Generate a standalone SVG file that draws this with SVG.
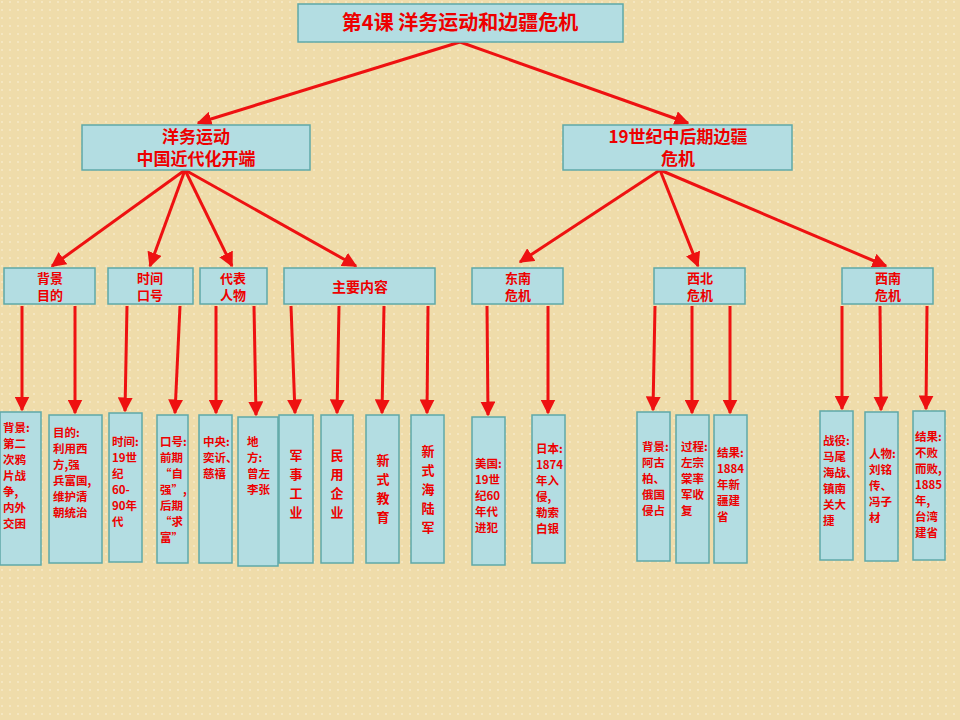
<svg xmlns="http://www.w3.org/2000/svg" width="960" height="720" viewBox="0 0 960 720">
<defs>
<pattern id="dots" width="8" height="8" patternUnits="userSpaceOnUse"><rect width="8" height="8" fill="#efdcaa"/><circle cx="2" cy="2" r="0.8" fill="#fbf3dc"/></pattern>
<marker id="ah" viewBox="0 0 10 10" refX="9" refY="5" markerWidth="5" markerHeight="5" orient="auto"><path d="M0,0L10,5L0,10z" fill="#ee1111"/></marker>
<style>
.b{fill:#b3dde2;stroke:#5fa8a8;stroke-width:1.5}
.t{fill:#ee0000;font-family:"Noto Sans CJK SC",sans-serif;font-weight:bold;text-anchor:middle}
.s{fill:#ee0000;font-family:"Noto Sans CJK SC",sans-serif;font-weight:bold;font-size:11.5px}
.c line{stroke:#ee1111;stroke-width:3;marker-end:url(#ah)}
</style>
</defs>
<rect width="960" height="720" fill="url(#dots)"/>
<g class="c">
<line x1="460" y1="42" x2="198" y2="123"/><line x1="460" y1="42" x2="688" y2="123"/>
<line x1="185" y1="170" x2="52" y2="266"/><line x1="185" y1="170" x2="150" y2="266"/><line x1="185" y1="170" x2="232" y2="266"/><line x1="185" y1="170" x2="356" y2="266"/>
<line x1="660" y1="170" x2="520" y2="262"/><line x1="660" y1="170" x2="698" y2="266"/><line x1="660" y1="170" x2="886" y2="266"/>
<line x1="22" y1="306" x2="22" y2="410"/><line x1="75" y1="306" x2="75" y2="413"/><line x1="127" y1="306" x2="125" y2="411"/><line x1="180" y1="306" x2="175" y2="413"/><line x1="216" y1="306" x2="216" y2="413"/><line x1="254" y1="306" x2="256" y2="415"/><line x1="291" y1="306" x2="295" y2="413"/><line x1="339" y1="306" x2="337" y2="413"/><line x1="384" y1="306" x2="382" y2="413"/><line x1="428" y1="306" x2="427" y2="413"/><line x1="487" y1="306" x2="488" y2="415"/><line x1="548" y1="306" x2="548" y2="413"/><line x1="655" y1="306" x2="653" y2="410"/><line x1="692" y1="306" x2="692" y2="413"/><line x1="730" y1="306" x2="730" y2="413"/><line x1="842" y1="306" x2="842" y2="409"/><line x1="880" y1="306" x2="881" y2="410"/><line x1="927" y1="306" x2="926" y2="409"/>
</g>
<g id="title"><rect class="b" x="298" y="4" width="325" height="38"/><text class="t" x="460" y="30" font-size="20">第4课 洋务运动和边疆危机</text></g>
<g id="n1"><rect class="b" x="82" y="125" width="228" height="45"/><text class="t" x="196" y="143" font-size="17"><tspan x="196">洋务运动</tspan><tspan x="196" dy="22">中国近代化开端</tspan></text></g>
<g id="n2"><rect class="b" x="563" y="125" width="229" height="45"/><text class="t" x="678" y="143" font-size="17"><tspan x="678">19世纪中后期边疆</tspan><tspan x="678" dy="22">危机</tspan></text></g>
<g id="a1"><rect class="b" x="4" y="268" width="91" height="36"/><text class="t" x="50" y="283" font-size="13"><tspan x="50">背景</tspan><tspan x="50" dy="17">目的</tspan></text></g>
<g id="a2"><rect class="b" x="108" y="268" width="85" height="36"/><text class="t" x="150" y="283" font-size="13"><tspan x="150">时间</tspan><tspan x="150" dy="17">口号</tspan></text></g>
<g id="a3"><rect class="b" x="200" y="268" width="67" height="36"/><text class="t" x="233" y="283" font-size="13"><tspan x="233">代表</tspan><tspan x="233" dy="17">人物</tspan></text></g>
<g id="a4"><rect class="b" x="284" y="268" width="151" height="36"/><text class="t" x="360" y="292" font-size="14">主要内容</text></g>
<g id="a5"><rect class="b" x="472" y="268" width="91" height="36"/><text class="t" x="518" y="283" font-size="13"><tspan x="518">东南</tspan><tspan x="518" dy="17">危机</tspan></text></g>
<g id="a6"><rect class="b" x="654" y="268" width="91" height="36"/><text class="t" x="700" y="283" font-size="13"><tspan x="700">西北</tspan><tspan x="700" dy="17">危机</tspan></text></g>
<g id="a7"><rect class="b" x="842" y="268" width="91" height="36"/><text class="t" x="888" y="283" font-size="13"><tspan x="888">西南</tspan><tspan x="888" dy="17">危机</tspan></text></g>
<g id="l1"><rect class="b" x="0" y="412" width="41" height="153"/><text class="s" x="3" y="432"><tspan x="3">背景:</tspan><tspan x="3" dy="16">第二</tspan><tspan x="3" dy="16">次鸦</tspan><tspan x="3" dy="16">片战</tspan><tspan x="3" dy="16">争,</tspan><tspan x="3" dy="16">内外</tspan><tspan x="3" dy="16">交困</tspan></text></g>
<g id="l2"><rect class="b" x="49" y="415" width="53" height="148"/><text class="s" x="53" y="437"><tspan x="53">目的:</tspan><tspan x="53" dy="16">利用西</tspan><tspan x="53" dy="16">方,强</tspan><tspan x="53" dy="16">兵富国,</tspan><tspan x="53" dy="16">维护清</tspan><tspan x="53" dy="16">朝统治</tspan></text></g>
<g id="l3"><rect class="b" x="109" y="413" width="33" height="149"/><text class="s" x="112" y="446"><tspan x="112">时间:</tspan><tspan x="112" dy="16">19世</tspan><tspan x="112" dy="16">纪</tspan><tspan x="112" dy="16">60-</tspan><tspan x="112" dy="16">90年</tspan><tspan x="112" dy="16">代</tspan></text></g>
<g id="l4"><rect class="b" x="157" y="415" width="31" height="148"/><text class="s" x="160" y="446"><tspan x="160">口号:</tspan><tspan x="160" dy="16">前期</tspan><tspan x="160" dy="16">“自</tspan><tspan x="160" dy="16">强”,</tspan><tspan x="160" dy="16">后期</tspan><tspan x="160" dy="16">“求</tspan><tspan x="160" dy="16">富”</tspan></text></g>
<g id="l5"><rect class="b" x="199" y="415" width="33" height="148"/><text class="s" x="203" y="446"><tspan x="203">中央:</tspan><tspan x="203" dy="16">奕䜣、</tspan><tspan x="203" dy="16">慈禧</tspan></text></g>
<g id="l6"><rect class="b" x="238" y="417" width="40" height="149"/><text class="s" x="247" y="446"><tspan x="247">地</tspan><tspan x="247" dy="16">方:</tspan><tspan x="247" dy="16">曾左</tspan><tspan x="247" dy="16">李张</tspan></text></g>
<g id="l7"><rect class="b" x="279" y="415" width="34" height="148"/><text class="t" x="296" y="460" font-size="13"><tspan x="296">军</tspan><tspan x="296" dy="19">事</tspan><tspan x="296" dy="19">工</tspan><tspan x="296" dy="19">业</tspan></text></g>
<g id="l8"><rect class="b" x="321" y="415" width="32" height="148"/><text class="t" x="337" y="460" font-size="13"><tspan x="337">民</tspan><tspan x="337" dy="19">用</tspan><tspan x="337" dy="19">企</tspan><tspan x="337" dy="19">业</tspan></text></g>
<g id="l9"><rect class="b" x="366" y="415" width="33" height="148"/><text class="t" x="383" y="465" font-size="13"><tspan x="383">新</tspan><tspan x="383" dy="19">式</tspan><tspan x="383" dy="19">教</tspan><tspan x="383" dy="19">育</tspan></text></g>
<g id="l10"><rect class="b" x="411" y="415" width="33" height="148"/><text class="t" x="428" y="456" font-size="13"><tspan x="428">新</tspan><tspan x="428" dy="19">式</tspan><tspan x="428" dy="19">海</tspan><tspan x="428" dy="19">陆</tspan><tspan x="428" dy="19">军</tspan></text></g>
<g id="l11"><rect class="b" x="472" y="417" width="33" height="148"/><text class="s" x="475" y="468"><tspan x="475">美国:</tspan><tspan x="475" dy="16">19世</tspan><tspan x="475" dy="16">纪60</tspan><tspan x="475" dy="16">年代</tspan><tspan x="475" dy="16">进犯</tspan></text></g>
<g id="l12"><rect class="b" x="532" y="415" width="33" height="148"/><text class="s" x="536" y="453"><tspan x="536">日本:</tspan><tspan x="536" dy="16">1874</tspan><tspan x="536" dy="16">年入</tspan><tspan x="536" dy="16">侵,</tspan><tspan x="536" dy="16">勒索</tspan><tspan x="536" dy="16">白银</tspan></text></g>
<g id="l13"><rect class="b" x="637" y="412" width="33" height="149"/><text class="s" x="642" y="451"><tspan x="642">背景:</tspan><tspan x="642" dy="16">阿古</tspan><tspan x="642" dy="16">柏、</tspan><tspan x="642" dy="16">俄国</tspan><tspan x="642" dy="16">侵占</tspan></text></g>
<g id="l14"><rect class="b" x="676" y="415" width="33" height="148"/><text class="s" x="681" y="451"><tspan x="681">过程:</tspan><tspan x="681" dy="16">左宗</tspan><tspan x="681" dy="16">棠率</tspan><tspan x="681" dy="16">军收</tspan><tspan x="681" dy="16">复</tspan></text></g>
<g id="l15"><rect class="b" x="714" y="415" width="33" height="148"/><text class="s" x="717" y="457"><tspan x="717">结果:</tspan><tspan x="717" dy="16">1884</tspan><tspan x="717" dy="16">年新</tspan><tspan x="717" dy="16">疆建</tspan><tspan x="717" dy="16">省</tspan></text></g>
<g id="l16"><rect class="b" x="820" y="411" width="33" height="149"/><text class="s" x="823" y="445"><tspan x="823">战役:</tspan><tspan x="823" dy="16">马尾</tspan><tspan x="823" dy="16">海战、</tspan><tspan x="823" dy="16">镇南</tspan><tspan x="823" dy="16">关大</tspan><tspan x="823" dy="16">捷</tspan></text></g>
<g id="l17"><rect class="b" x="865" y="412" width="33" height="149"/><text class="s" x="869" y="458"><tspan x="869">人物:</tspan><tspan x="869" dy="16">刘铭</tspan><tspan x="869" dy="16">传、</tspan><tspan x="869" dy="16">冯子</tspan><tspan x="869" dy="16">材</tspan></text></g>
<g id="l18"><rect class="b" x="913" y="411" width="32" height="149"/><text class="s" x="915" y="441"><tspan x="915">结果:</tspan><tspan x="915" dy="16">不败</tspan><tspan x="915" dy="16">而败,</tspan><tspan x="915" dy="16">1885</tspan><tspan x="915" dy="16">年,</tspan><tspan x="915" dy="16">台湾</tspan><tspan x="915" dy="16">建省</tspan></text></g>
</svg>
